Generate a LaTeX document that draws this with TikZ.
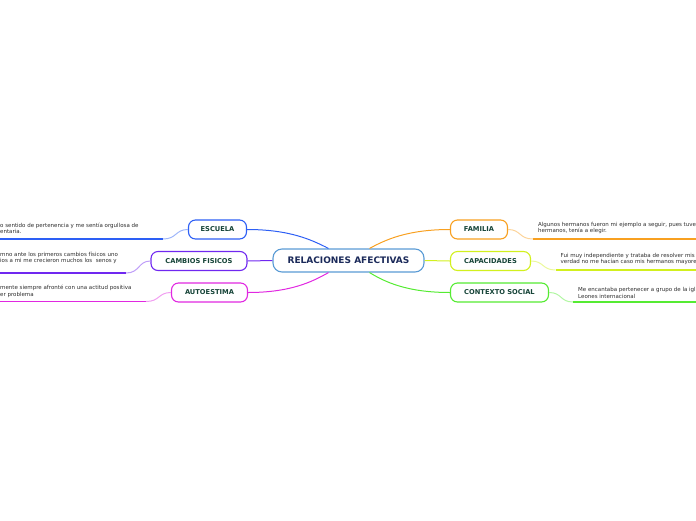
\documentclass[tikz,border=0pt]{standalone}
\usepackage{fontspec}
\setmainfont{DejaVu Sans}
\usepackage{xcolor}
\usetikzlibrary{math}
\definecolor{mainblue}{RGB}{90,155,213}
\definecolor{mainink}{RGB}{27,42,90}
\definecolor{topicink}{RGB}{22,68,56}
\definecolor{leafink}{RGB}{45,45,45}
\definecolor{myblue}{RGB}{45,95,245}
\definecolor{mypurple}{RGB}{112,40,240}
\definecolor{mymagenta}{RGB}{225,40,225}
\definecolor{myorange}{RGB}{248,160,32}
\definecolor{myyellow}{RGB}{210,240,30}
\definecolor{mygreen}{RGB}{85,235,50}

\begin{document}
\begin{tikzpicture}[x=1pt,y=-1pt,
  topic/.style={draw=#1,line width=1.1pt,rounded corners=7pt,fill=white,minimum height=19pt,inner xsep=0pt,
    font=\fontsize{6.7}{7}\selectfont\bfseries,text=topicink},
  leaf/.style={align=left,inner sep=0pt,font=\fontsize{5.5}{6.6}\selectfont,text=leafink}]
\tikzmath{
\ya=229.5;
\yb=261;
\yc=292.5;
}
\useasboundingbox (0,0) rectangle (696,520);
\clip (0,0) rectangle (696,520);

% central topic
\node[draw=mainblue,line width=1.1pt,rounded corners=9pt,fill=white,minimum width=151pt,minimum height=23pt,
  font=\fontsize{9}{10}\selectfont\bfseries,text=mainink] (rel) at (348.5,260.5) {RELACIONES AFECTIVAS};

% main topics
\node[topic=myblue,minimum width=58pt] (escuela) at (217.5,\ya) {ESCUELA};
\node[topic=mypurple,minimum width=96pt] (cambios) at (199,\yb) {CAMBIOS FISICOS};
\node[topic=mymagenta,minimum width=76pt] (autoestima) at (209.5,\yc) {AUTOESTIMA};
\node[topic=myorange,minimum width=57pt] (familia) at (479,\ya) {FAMILIA};
\node[topic=myyellow,minimum width=80pt] (capacidades) at (490.5,\yb) {CAPACIDADES};
\node[topic=mygreen,minimum width=98pt] (contexto) at (499.5,\yc) {CONTEXTO SOCIAL};

\draw[myblue,line width=1pt] (escuela.east) .. controls (290,229.5) and (312,240) .. ([xshift=-20pt]rel.north);
\draw[mypurple,line width=1pt] (cambios.east) -- (rel.west);
\draw[mymagenta,line width=1pt] (autoestima.east) .. controls (290,292.5) and (312,282) .. ([xshift=-20pt]rel.south);
\draw[myorange,line width=1pt] (familia.west) .. controls (407,229.5) and (385,240) .. ([xshift=21pt]rel.north);
\draw[myyellow,line width=1pt] (capacidades.west) -- (rel.east);
\draw[mygreen,line width=1pt] (contexto.west) .. controls (407,292.5) and (385,282) .. ([xshift=21pt]rel.south);

% leaves
\node[leaf,anchor=west] (t1) at (0,228.5) {o sentido de pertenencia y me sentía orgullosa de\\entaria.};
\node[leaf,anchor=west] (t2) at (0,258) {mno ante los primeros cambios físicos uno\\ios a mi me crecieron muchos los \ senos y};
\node[leaf,anchor=west] (t3) at (0,291.5) {mente siempre afronté con una actitud positiva\\er problema};
\node[leaf,anchor=west] (t4) at (538,228) {Algunos hermanos fueron mi ejemplo a seguir, pues tuve\\hermanos, tenía a elegir.};
\node[leaf,anchor=west] (t5) at (560.5,259) {Fui muy independiente y trataba de resolver mis\\verdad no me hacían caso mis hermanos mayore};
\node[leaf,anchor=west] (t6) at (578,293) {Me encantaba pertenecer a grupo de la igl\\Leones internacional};

\coordinate (u1) at (163,239);
\coordinate (u2) at (126,273);
\coordinate (u3) at (146,301.5);
\coordinate (u4) at (533,239);
\coordinate (u5) at (555.5,270);
\coordinate (u6) at (573,302);

\draw[myblue,line width=1.2pt] (0,239) -- (u1);
\draw[mypurple,line width=1.2pt] (0,273) -- (u2);
\draw[mymagenta,line width=1.2pt] (0,301.5) -- (u3);
\draw[myorange,line width=1.2pt] (u4) -- (696,239);
\draw[myyellow,line width=1.2pt] (u5) -- (696,270);
\draw[mygreen,line width=1.2pt] (u6) -- (696,302);

\draw[myblue!45,line width=1pt] (u1) .. controls (177,239) and (175,229.5) .. (escuela.west);
\draw[mypurple!45,line width=1pt] (u2) .. controls (140,273) and (138,261) .. (cambios.west);
\draw[mymagenta!45,line width=1pt] (u3) .. controls (160,301.5) and (158,292.5) .. (autoestima.west);
\draw[myorange!45,line width=1pt] (familia.east) .. controls (521,229.5) and (519,239) .. (u4);
\draw[myyellow!45,line width=1pt] (capacidades.east) .. controls (544,261) and (542,270) .. (u5);
\draw[mygreen!45,line width=1pt] (contexto.east) .. controls (562,292.5) and (560,302) .. (u6);
\end{tikzpicture}
\end{document}
